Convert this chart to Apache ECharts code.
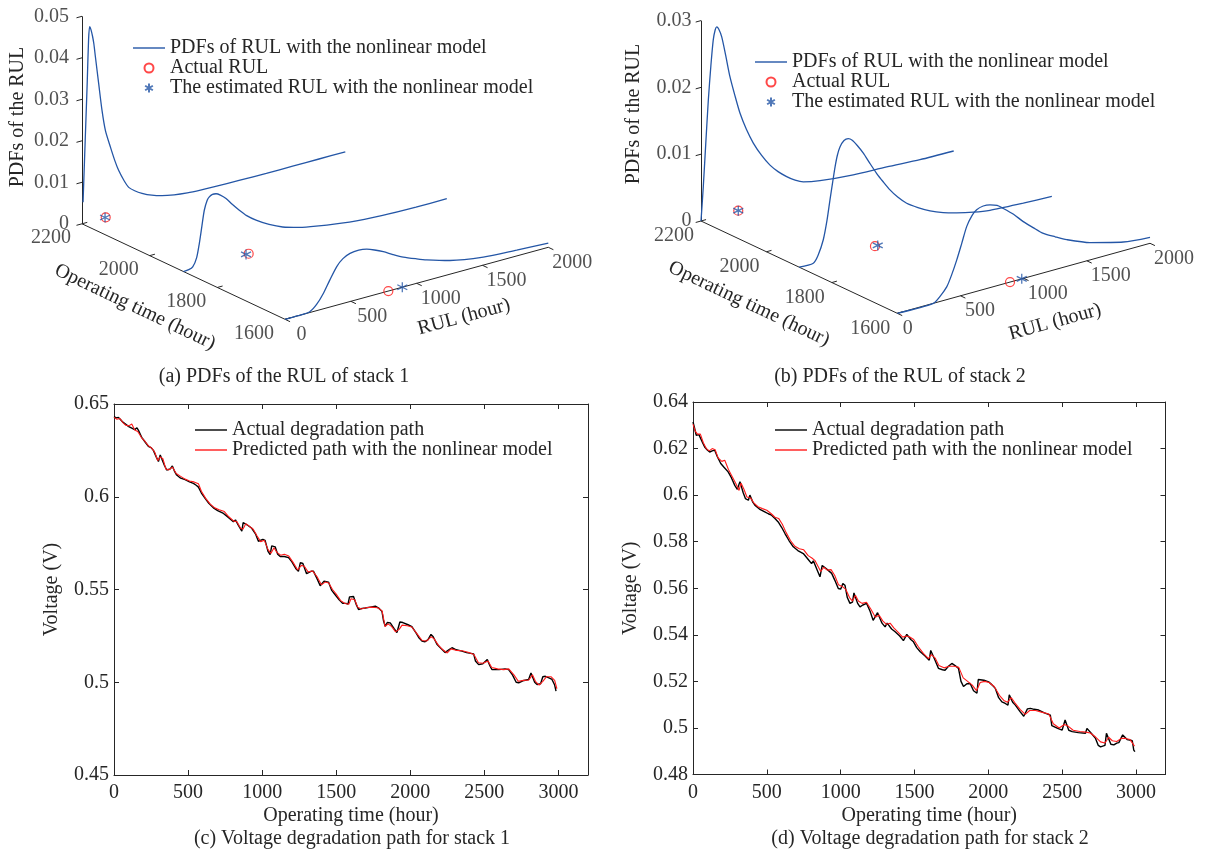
<!DOCTYPE html>
<html>
<head>
<meta charset="utf-8">
<title>RUL PDFs and voltage degradation paths</title>
<script src="https://cdn.jsdelivr.net/npm/echarts@6/dist/echarts.min.js"></script>
<style>
  html, body { margin: 0; padding: 0; background: #fff; }
  #chart { width: 1210px; height: 857px; }
</style>
</head>
<body>
<div id="chart"></div>
<script>
// ---------- data ----------
// operating times at which the RUL pdf was evaluated
const pdfOperatingTimes = [2200, 1900, 1600];

// stack 1: RUL (hour) and pdf value of each curve
const s1Rul1 = [8, 20, 30, 40, 50, 58, 68, 80, 90, 102, 127, 152, 178, 216, 250, 279, 320, 355, 400, 456, 530, 608, 700, 800, 900, 1000, 1200, 1400, 1600, 1800, 2000];
const s1Pdf1 = [0.0051, 0.016, 0.025, 0.034, 0.044, 0.047, 0.0462, 0.0445, 0.0426, 0.0393, 0.0326, 0.026, 0.0209, 0.0166, 0.013, 0.0104, 0.0076, 0.0057, 0.0045, 0.0034, 0.0023, 0.0015, 0.0009, 0.0005, 0.0003, 0.0002, 0.0001, 0, 0, 0, 0];
const s1Rul2 = [0, 40, 70, 100, 120, 140, 158, 180, 196, 220, 247, 280, 323, 370, 424, 480, 551, 650, 753, 880, 1007, 1260, 1513, 1766, 2000];
const s1Pdf2 = [0, 0.0001, 0.0005, 0.0025, 0.0057, 0.0098, 0.0134, 0.0156, 0.0163, 0.0167, 0.0166, 0.016, 0.0148, 0.013, 0.0111, 0.0093, 0.0076, 0.0057, 0.0042, 0.003, 0.0022, 0.001, 0.0004, 0.0002, 0.0002];
const s1Rul3 = [0, 100, 188, 240, 291, 340, 393, 440, 494, 560, 621, 680, 747, 820, 899, 1000, 1076, 1253, 1506, 1760, 2000];
const s1Pdf3 = [0, 0, 0.0002, 0.0015, 0.0037, 0.0065, 0.0093, 0.0108, 0.0116, 0.0118, 0.0115, 0.0108, 0.0098, 0.0085, 0.0072, 0.0059, 0.005, 0.0033, 0.0019, 0.0014, 0.001];
const s1ActualRul = [180, 495, 785];
const s1EstimatedRul = [175, 475, 891];

// stack 2
const s2Rul1 = [0, 18, 38, 58, 78, 97, 112, 124, 140, 164, 195, 229, 268, 309, 360, 414, 480, 546, 610, 678, 745, 810, 942, 1205, 1470, 1733, 2000];
const s2Pdf1 = [0, 0.005, 0.0115, 0.0178, 0.0228, 0.0266, 0.028, 0.0284, 0.028, 0.0267, 0.0238, 0.0204, 0.0174, 0.0145, 0.0118, 0.0095, 0.0073, 0.0055, 0.0042, 0.0031, 0.0022, 0.0016, 0.0011, 0.0006, 0.0004, 0.0001, 0];
const s2Rul2 = [0, 112, 150, 191, 220, 244, 265, 284, 303, 323, 355, 389, 420, 460, 508, 560, 614, 665, 719, 780, 851, 940, 1036, 1140, 1247, 1380, 1510, 1774, 2000];
const s2Pdf2 = [0, 0, 0.001, 0.0031, 0.0058, 0.0088, 0.0113, 0.0135, 0.0152, 0.0163, 0.0171, 0.0172, 0.0168, 0.0158, 0.0144, 0.0126, 0.0108, 0.0093, 0.0078, 0.0064, 0.0051, 0.004, 0.003, 0.0022, 0.0016, 0.001, 0.0006, 0.0003, 0.0001];
const s2Rul3 = [0, 285, 340, 391, 430, 470, 510, 549, 590, 628, 680, 734, 790, 839, 920, 997, 1075, 1156, 1250, 1341, 1525, 1789, 2000];
const s2Pdf3 = [0, 0, 0.0008, 0.0019, 0.0035, 0.0055, 0.0078, 0.0101, 0.0115, 0.0122, 0.0125, 0.0124, 0.012, 0.0113, 0.01, 0.0085, 0.0072, 0.0059, 0.0049, 0.004, 0.0026, 0.0013, 0.0009];
const s2ActualRul = [295, 600, 892];
const s2EstimatedRul = [295, 622, 985];

// 3d axis ticks
const otTicks = [2200, 2000, 1800, 1600];
const rulTicks = [0, 500, 1000, 1500, 2000];
const pdfTicks1 = [0, 0.01, 0.02, 0.03, 0.04, 0.05];
const pdfTicks2 = [0, 0.01, 0.02, 0.03];

// voltage paths [operating time, voltage]
const s1Actual = [[0,0.6432],[15,0.6425],[30,0.6428],[45,0.6415],[60,0.6402],[80,0.639],[100,0.6378],[120,0.637],[140,0.6362],[155,0.6372],[165,0.6358],[187,0.632],[210,0.6295],[232,0.6272],[250,0.6265],[266,0.625],[285,0.6215],[300,0.619],[312,0.6225],[325,0.6215],[340,0.617],[356,0.6144],[380,0.615],[394,0.6166],[410,0.6135],[423,0.6117],[450,0.61],[480,0.6092],[510,0.608],[536,0.6072],[555,0.6062],[570,0.6052],[590,0.602],[615,0.5992],[640,0.5965],[671,0.594],[700,0.5925],[739,0.591],[770,0.589],[806,0.5866],[820,0.5875],[840,0.5845],[863,0.5815],[872,0.586],[885,0.5862],[905,0.5845],[930,0.583],[955,0.58],[975,0.576],[986,0.5752],[1005,0.577],[1020,0.5765],[1040,0.5705],[1054,0.5688],[1065,0.5735],[1088,0.573],[1105,0.569],[1122,0.5678],[1150,0.5678],[1178,0.5672],[1200,0.565],[1230,0.561],[1245,0.5598],[1258,0.5645],[1275,0.564],[1300,0.5585],[1313,0.558],[1330,0.5598],[1347,0.5598],[1370,0.556],[1392,0.552],[1403,0.5515],[1418,0.5545],[1448,0.554],[1470,0.5495],[1493,0.5472],[1520,0.5445],[1545,0.5425],[1565,0.5425],[1580,0.5422],[1590,0.546],[1617,0.5462],[1635,0.542],[1651,0.5392],[1675,0.5398],[1696,0.54],[1730,0.5405],[1764,0.541],[1790,0.5398],[1809,0.5382],[1820,0.533],[1831,0.5302],[1845,0.5322],[1865,0.532],[1890,0.529],[1910,0.5268],[1921,0.5266],[1930,0.5325],[1950,0.5322],[1985,0.531],[2011,0.53],[2040,0.5265],[2060,0.5238],[2079,0.5222],[2100,0.5218],[2120,0.523],[2140,0.5258],[2155,0.5245],[2180,0.5205],[2210,0.518],[2235,0.516],[2248,0.515],[2265,0.5178],[2282,0.5186],[2310,0.5175],[2349,0.5168],[2380,0.516],[2428,0.5153],[2440,0.5115],[2462,0.5095],[2490,0.51],[2520,0.5122],[2529,0.5122],[2540,0.5085],[2552,0.5068],[2600,0.5068],[2640,0.5072],[2664,0.5068],[2690,0.504],[2715,0.5],[2732,0.4997],[2760,0.5008],[2799,0.5015],[2815,0.505],[2825,0.505],[2840,0.5],[2856,0.4988],[2880,0.4992],[2895,0.503],[2912,0.5032],[2940,0.5022],[2957,0.5015],[2975,0.4985],[2984,0.4952]];
const s1Predicted = [[0,0.6428],[20,0.6418],[40,0.6422],[60,0.64],[80,0.6385],[100,0.6382],[120,0.6392],[140,0.636],[160,0.6352],[187,0.6318],[210,0.6298],[232,0.6275],[255,0.6262],[275,0.624],[295,0.6195],[312,0.6215],[330,0.6205],[350,0.615],[370,0.6145],[394,0.616],[420,0.6125],[450,0.611],[480,0.6095],[510,0.6085],[540,0.608],[570,0.607],[590,0.603],[620,0.599],[650,0.596],[680,0.594],[710,0.593],[745,0.592],[775,0.5892],[806,0.587],[830,0.5865],[855,0.583],[870,0.5825],[890,0.5855],[915,0.584],[940,0.5825],[965,0.579],[990,0.5758],[1015,0.5765],[1040,0.5715],[1060,0.5695],[1080,0.5725],[1100,0.57],[1125,0.5685],[1150,0.569],[1180,0.568],[1210,0.5645],[1240,0.5605],[1265,0.563],[1285,0.5625],[1310,0.5595],[1340,0.56],[1370,0.557],[1400,0.5525],[1425,0.554],[1450,0.5535],[1475,0.55],[1500,0.5475],[1530,0.544],[1560,0.5425],[1585,0.542],[1600,0.545],[1625,0.5445],[1645,0.5405],[1670,0.5395],[1700,0.5402],[1740,0.5405],[1780,0.5402],[1810,0.5385],[1830,0.53],[1850,0.5315],[1875,0.53],[1900,0.5272],[1925,0.5285],[1945,0.5308],[1980,0.5305],[2010,0.5298],[2045,0.5262],[2080,0.5225],[2110,0.5222],[2140,0.5245],[2160,0.5235],[2190,0.52],[2220,0.5175],[2250,0.5158],[2275,0.518],[2310,0.5172],[2350,0.517],[2390,0.5162],[2430,0.515],[2460,0.5105],[2490,0.5102],[2525,0.5115],[2550,0.508],[2590,0.5072],[2630,0.5068],[2665,0.5072],[2700,0.504],[2730,0.5005],[2765,0.501],[2800,0.5012],[2825,0.504],[2845,0.5005],[2870,0.4985],[2895,0.5005],[2920,0.503],[2950,0.503],[2975,0.501],[2990,0.4965]];
const s2Actual = [[0,0.6314],[10,0.629],[22,0.6257],[40,0.626],[52,0.6257],[65,0.6225],[79,0.6207],[95,0.6195],[113,0.6185],[130,0.619],[147,0.6193],[165,0.6165],[188,0.6136],[210,0.612],[238,0.61],[260,0.6075],[283,0.6042],[300,0.6025],[310,0.6017],[318,0.6058],[324,0.606],[340,0.601],[355,0.5985],[375,0.5978],[385,0.6],[391,0.6],[405,0.597],[419,0.5957],[450,0.594],[486,0.5928],[510,0.592],[532,0.5914],[555,0.59],[577,0.5885],[600,0.5862],[623,0.5835],[650,0.5805],[679,0.5778],[710,0.5762],[747,0.5749],[775,0.5728],[803,0.5706],[815,0.5718],[826,0.5712],[845,0.5672],[860,0.5649],[875,0.5698],[882,0.5699],[910,0.568],[939,0.5664],[960,0.5635],[984,0.5599],[1000,0.5596],[1015,0.562],[1029,0.5613],[1045,0.556],[1063,0.5535],[1080,0.554],[1090,0.558],[1097,0.5578],[1115,0.5535],[1131,0.552],[1150,0.5528],[1176,0.5535],[1200,0.55],[1220,0.5462],[1233,0.5456],[1250,0.5495],[1260,0.5496],[1280,0.545],[1301,0.5434],[1315,0.545],[1323,0.5449],[1345,0.5425],[1369,0.5413],[1400,0.5395],[1425,0.5375],[1437,0.537],[1448,0.5402],[1454,0.5402],[1475,0.538],[1493,0.537],[1515,0.5345],[1539,0.5327],[1570,0.531],[1600,0.5291],[1610,0.5333],[1617,0.5334],[1640,0.529],[1662,0.5256],[1690,0.525],[1707,0.5248],[1730,0.5265],[1753,0.5277],[1775,0.5268],[1798,0.5256],[1815,0.52],[1832,0.5178],[1855,0.519],[1877,0.5191],[1900,0.516],[1923,0.5149],[1932,0.5208],[1938,0.521],[1970,0.5205],[2002,0.5198],[2025,0.5185],[2047,0.517],[2070,0.513],[2092,0.5112],[2115,0.5105],[2133,0.5098],[2142,0.5142],[2149,0.5144],[2165,0.511],[2183,0.5098],[2215,0.507],[2240,0.505],[2251,0.5048],[2265,0.5082],[2285,0.5084],[2310,0.508],[2341,0.5077],[2380,0.5065],[2420,0.5055],[2430,0.501],[2443,0.5005],[2470,0.4998],[2500,0.4991],[2520,0.5034],[2529,0.5034],[2545,0.499],[2568,0.4984],[2610,0.498],[2658,0.4977],[2668,0.4998],[2680,0.4997],[2700,0.4975],[2726,0.4955],[2745,0.4925],[2760,0.4919],[2790,0.4925],[2800,0.4977],[2810,0.4976],[2830,0.493],[2850,0.4927],[2870,0.4935],[2884,0.4937],[2910,0.497],[2920,0.497],[2940,0.495],[2957,0.4948],[2975,0.4945],[2985,0.4905],[2993,0.4898]];
const s2Predicted = [[0,0.6305],[15,0.6275],[30,0.6262],[50,0.6262],[70,0.6225],[90,0.62],[110,0.619],[130,0.62],[150,0.6195],[170,0.616],[195,0.6145],[215,0.615],[240,0.611],[265,0.608],[290,0.605],[312,0.602],[325,0.6052],[345,0.6025],[365,0.5992],[390,0.5988],[410,0.5968],[440,0.595],[470,0.5942],[500,0.5935],[530,0.592],[555,0.5905],[580,0.59],[605,0.5875],[630,0.584],[660,0.5805],[690,0.578],[720,0.577],[750,0.5765],[780,0.574],[805,0.573],[825,0.572],[850,0.569],[865,0.5672],[885,0.569],[910,0.5678],[935,0.568],[960,0.5655],[985,0.5615],[1010,0.5608],[1035,0.5595],[1060,0.556],[1080,0.5545],[1100,0.557],[1120,0.5545],[1145,0.5535],[1175,0.554],[1205,0.551],[1235,0.5475],[1260,0.5485],[1285,0.546],[1310,0.5445],[1335,0.545],[1360,0.543],[1390,0.541],[1420,0.539],[1445,0.5395],[1465,0.5392],[1495,0.538],[1525,0.535],[1560,0.532],[1595,0.5298],[1615,0.5315],[1640,0.53],[1665,0.5268],[1700,0.5258],[1735,0.5265],[1770,0.5265],[1800,0.526],[1830,0.5215],[1860,0.52],[1890,0.5185],[1920,0.516],[1945,0.5195],[1975,0.52],[2005,0.5195],[2040,0.5178],[2075,0.514],[2105,0.5118],[2130,0.511],[2155,0.513],[2180,0.5108],[2215,0.508],[2250,0.5058],[2280,0.5075],[2320,0.5075],[2360,0.5068],[2410,0.506],[2440,0.5018],[2480,0.5],[2515,0.5015],[2540,0.5008],[2575,0.499],[2620,0.4985],[2660,0.4982],[2690,0.4978],[2725,0.4962],[2760,0.494],[2790,0.4935],[2815,0.496],[2840,0.4945],[2870,0.4942],[2900,0.4955],[2930,0.4955],[2960,0.495],[2990,0.4922]];

// ---------- styling / layout ----------
const FONT = '"Liberation Serif", "Times New Roman", serif';
const INK = '#262626';
const BLUE = '#2456a6';
const RED = '#ff1a1a';
const PDF_NAME = 'PDFs of RUL with the nonlinear model';
const ACT_NAME = 'Actual RUL';
const EST_NAME = 'The estimated RUL with the nonlinear model';
const ASTERISK = 'path://M5,0L5,10M0.7,2.5L9.3,7.5M0.7,7.5L9.3,2.5';
const LINE_ICON = 'path://M0,0H32V1.4H0Z';

// oblique view of the 3d boxes: screen px per unit of each axis
const view1 = { x0: 82, y0: 223.8, otX: 203, otY: 95.5, rX: 0.13165, rY: -0.036, zY: 4150, zMax: 0.05, zLab: -13, otLab: [-31, 14], rulLab: [14, 2.5] };
const view2 = { x0: 701, y0: 221, otX: 196.3, otY: 92.3, rX: 0.12635, rY: -0.035, zY: 6680, zMax: 0.03, zLab: -9.5, otLab: [-27, 15], rulLab: [6, 4.5] };

function proj(v, ot, r, z) {
  const a = (2200 - ot) / 600;
  return [v.x0 + a * v.otX + r * v.rX, v.y0 + a * v.otY + r * v.rY - z * v.zY];
}

function pdfLine(v, ot, rul, pdf) {
  return {
    type: 'line', name: PDF_NAME, xAxisIndex: 0, yAxisIndex: 0,
    data: rul.map((r, i) => proj(v, ot, r, pdf[i])),
    symbol: 'none', showSymbol: false, smooth: 0.25,
    lineStyle: { color: BLUE, width: 1.3 }, itemStyle: { color: BLUE }
  };
}

function markers(v, name, rul, isStar) {
  return {
    type: 'scatter', name: name, xAxisIndex: 0, yAxisIndex: 0,
    data: rul.map((r, i) => proj(v, pdfOperatingTimes[i], r, 0)),
    symbol: isStar ? ASTERISK : 'circle', symbolSize: isStar ? 10 : 9,
    itemStyle: isStar
      ? { color: 'rgba(0,0,0,0)', borderColor: BLUE, borderWidth: 1.3 }
      : { color: 'rgba(0,0,0,0)', borderColor: RED, borderWidth: 1.2 },
    z: 5
  };
}

function axes3d(v, pdfTicks) {
  const segs = [];
  segs.push([proj(v, 2200, 0, 0), proj(v, 2200, 0, v.zMax)]);
  segs.push([proj(v, 2200, 0, 0), proj(v, 1600, 0, 0)]);
  segs.push([proj(v, 1600, 0, 0), proj(v, 1600, 2000, 0)]);
  pdfTicks.forEach(z => segs.push([proj(v, 2200, 0, z), proj(v, 2200, -42, z)]));
  otTicks.forEach(t => segs.push([proj(v, t, 0, 0), proj(v, t, 40, 0)]));
  rulTicks.forEach(r => segs.push([proj(v, 1600, r, 0), proj(v, 1585, r, 0)]));
  return {
    type: 'lines', coordinateSystem: 'cartesian2d', xAxisIndex: 0, yAxisIndex: 0,
    data: segs.map(c => ({ coords: c })),
    lineStyle: { color: INK, width: 1, opacity: 1 }, silent: true, z: 1
  };
}

function tickText(points, label) {
  return {
    type: 'scatter', xAxisIndex: 0, yAxisIndex: 0, symbolSize: 1, silent: true,
    itemStyle: { color: 'rgba(0,0,0,0)' },
    data: points,
    label: Object.assign({
      show: true, position: 'inside', formatter: p => p.value[2],
      fontSize: 20, fontFamily: FONT, color: INK, verticalAlign: 'middle'
    }, label)
  };
}

function tickLabels3d(v, pdfTicks) {
  const zPts = pdfTicks.map(z => proj(v, 2200, 0, z).concat(String(z)));
  const otPts = otTicks.map(t => proj(v, t, 0, 0).concat(String(t)));
  const out = [
    tickText(zPts, { align: 'right', offset: [v.zLab, 0] }),
    tickText(otPts, { align: 'center', offset: v.otLab })
  ];
  rulTicks.forEach(r => {
    const s = String(r);
    out.push(tickText([proj(v, 1600, r, 0).concat(s)], { align: 'center', offset: [v.rulLab[0] + v.rulLab[1] * s.length, 15] }));
  });
  return out;
}

function plainAxisX(grid, show, pos) {
  return {
    type: 'value', gridIndex: grid, position: pos, min: 0, max: 3200, interval: 500,
    axisLine: { show: true, onZero: false, lineStyle: { color: INK, width: 1 } },
    axisTick: { show: true, inside: true, length: 5, lineStyle: { color: INK } },
    axisLabel: { show: show, fontSize: 20, fontFamily: FONT, color: INK, margin: 8, showMaxLabel: false, formatter: v => String(v) },
    splitLine: { show: false },
    name: show ? 'Operating time (hour)' : '', nameLocation: 'middle', nameGap: 31,
    nameTextStyle: { fontSize: 20, fontFamily: FONT, color: INK }
  };
}

function plainAxisY(grid, show, pos, min, max, step) {
  return {
    type: 'value', gridIndex: grid, position: pos, min: min, max: max, interval: step,
    axisLine: { show: true, onZero: false, lineStyle: { color: INK, width: 1 } },
    axisTick: { show: true, inside: true, length: 5, lineStyle: { color: INK } },
    axisLabel: { show: show, fontSize: 20, fontFamily: FONT, color: INK, margin: 5 },
    splitLine: { show: false },
    name: show ? 'Voltage (V)' : '', nameLocation: 'middle', nameGap: 52, nameRotate: 90,
    nameTextStyle: { fontSize: 20, fontFamily: FONT, color: INK }
  };
}

function pathLine(name, pts, color, width, xi, yi) {
  return {
    type: 'line', name: name, xAxisIndex: xi, yAxisIndex: yi, data: pts,
    symbol: 'none', showSymbol: false,
    lineStyle: { color: color, width: width }, itemStyle: { color: color }
  };
}

function legend(items, left, top) {
  return {
    orient: 'vertical', left: left, top: top, padding: 0, itemGap: 0,
    itemWidth: 32, itemHeight: 9, selectedMode: false, symbolKeepAspect: true,
    textStyle: { fontSize: 20, fontFamily: FONT, color: INK, lineHeight: 20 },
    data: items
  };
}

function caption(text, x, y, rot) {
  return {
    type: 'text', x: x, y: y, rotation: rot || 0, silent: true,
    style: { text: text, fontSize: 20, fontFamily: FONT, fill: INK, align: 'center', verticalAlign: 'middle' }
  };
}

const series = [
  axes3d(view1, pdfTicks1), axes3d(view2, pdfTicks2),
  pdfLine(view1, pdfOperatingTimes[0], s1Rul1, s1Pdf1),
  pdfLine(view1, pdfOperatingTimes[1], s1Rul2, s1Pdf2),
  pdfLine(view1, pdfOperatingTimes[2], s1Rul3, s1Pdf3),
  pdfLine(view2, pdfOperatingTimes[0], s2Rul1, s2Pdf1),
  pdfLine(view2, pdfOperatingTimes[1], s2Rul2, s2Pdf2),
  pdfLine(view2, pdfOperatingTimes[2], s2Rul3, s2Pdf3),
  markers(view1, ACT_NAME, s1ActualRul, false),
  markers(view1, EST_NAME, s1EstimatedRul, true),
  markers(view2, ACT_NAME, s2ActualRul, false),
  markers(view2, EST_NAME, s2EstimatedRul, true),
  ...tickLabels3d(view1, pdfTicks1),
  ...tickLabels3d(view2, pdfTicks2),
  pathLine('Actual degradation path', s1Actual, '#000', 1.4, 1, 1),
  pathLine('Predicted path with the nonlinear model', s1Predicted, RED, 1.1, 1, 1),
  pathLine('Actual degradation path', s2Actual, '#000', 1.4, 3, 3),
  pathLine('Predicted path with the nonlinear model', s2Predicted, RED, 1.1, 3, 3)
];

const pdfLegend = [{ name: PDF_NAME, icon: LINE_ICON }, { name: ACT_NAME }, { name: EST_NAME }];
const pathLegend = [{ name: 'Actual degradation path', icon: LINE_ICON }, { name: 'Predicted path with the nonlinear model', icon: LINE_ICON }];

const chart = echarts.init(document.getElementById('chart'), null, { renderer: 'canvas' });
chart.setOption({
  backgroundColor: '#fff',
  animation: false,
  grid: [
    { left: 0, top: 0, width: 1210, height: 400 },
    { left: 114, top: 404, width: 474, height: 371 },
    { left: 693, top: 402, width: 472.5, height: 372.5 }
  ],
  xAxis: [
    { type: 'value', gridIndex: 0, min: 0, max: 1210, show: false },
    plainAxisX(1, true, 'bottom'), plainAxisX(1, false, 'top'),
    plainAxisX(2, true, 'bottom'), plainAxisX(2, false, 'top')
  ],
  yAxis: [
    { type: 'value', gridIndex: 0, min: 0, max: 400, inverse: true, show: false },
    plainAxisY(1, true, 'left', 0.45, 0.65, 0.05), plainAxisY(1, false, 'right', 0.45, 0.65, 0.05),
    plainAxisY(2, true, 'left', 0.48, 0.64, 0.02), plainAxisY(2, false, 'right', 0.48, 0.64, 0.02)
  ],
  legend: [
    legend(pdfLegend, 133, 38),
    legend(pdfLegend, 755, 52),
    legend(pathLegend, 195, 420),
    legend(pathLegend, 775, 420)
  ],
  graphic: [
    caption('PDFs of the RUL', 18, 117, Math.PI / 2),
    caption('Operating time (hour)', 135, 307, -0.445),
    caption('RUL (hour)', 464, 317, 0.267),
    caption('(a) PDFs of the RUL of stack 1', 284, 377),
    caption('PDFs of the RUL', 634, 114, Math.PI / 2),
    caption('Operating time (hour)', 749, 304, -0.44),
    caption('RUL (hour)', 1055, 322, 0.27),
    caption('(b) PDFs of the RUL of stack 2', 900, 377),
    caption('(c) Voltage degradation path for stack 1', 352, 839),
    caption('(d) Voltage degradation path for stack 2', 930, 839)
  ],
  series: series
});
</script>
</body>
</html>
